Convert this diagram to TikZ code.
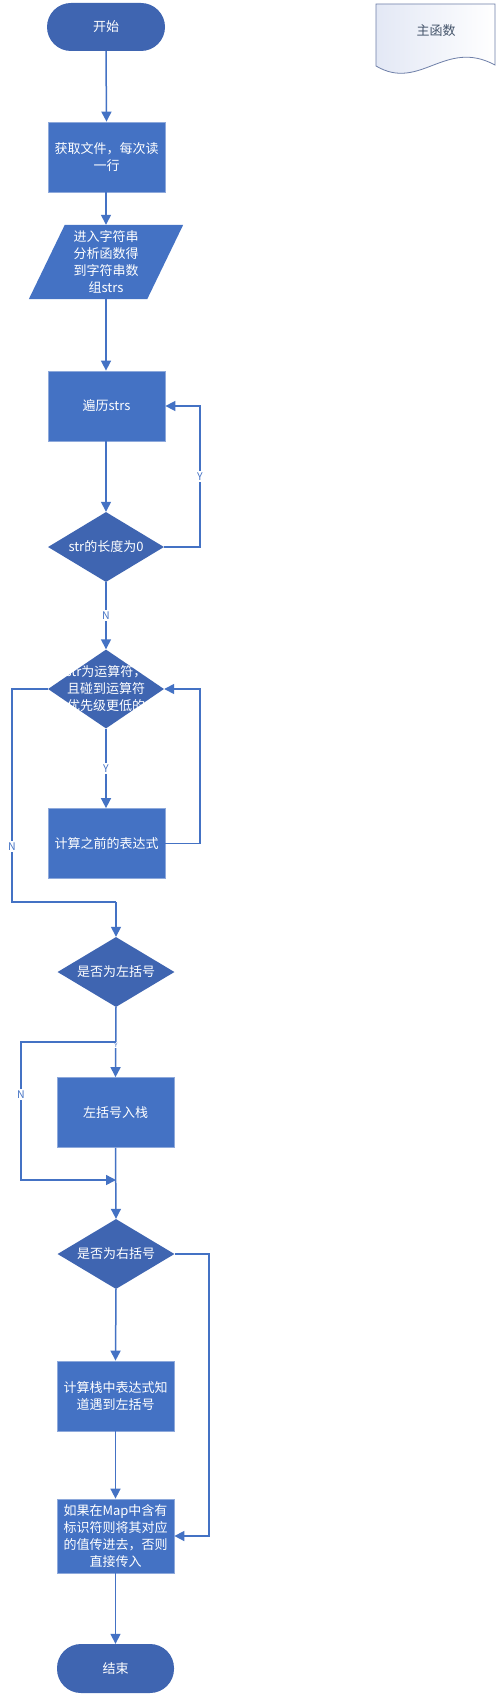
\documentclass[tikz,border=0pt]{standalone}
\usepackage{fontspec}
\newfontfamily\cjk{Noto Sans CJK SC}
\usetikzlibrary{arrows.meta,shapes.geometric,calc}
\definecolor{boxblue}{HTML}{4472C4}
\definecolor{darkblue}{HTML}{3F65B1}
\definecolor{boxedge}{HTML}{8EA9DB}
\definecolor{lineblue}{HTML}{4472C4}
\definecolor{docedge}{HTML}{6E7FA8}
\definecolor{doctext}{HTML}{44546A}
\definecolor{docfill}{HTML}{E3E8F5}
\tikzset{
  txt/.style={font=\cjk\fontsize{13pt}{17pt}\selectfont, text=white, align=center},
  pill/.style={txt, rectangle, rounded corners=24pt, fill=darkblue, draw=none, minimum width=118pt, minimum height=48pt, inner sep=0pt},
  procbox/.style={txt, rectangle, fill=boxblue, draw=boxedge, line width=0.75pt, minimum width=117pt, minimum height=70pt, inner sep=2pt},
  decision/.style={diamond, fill=darkblue, draw=none, inner sep=0pt, minimum width=116pt, minimum height=70pt},
  frame/.style={rectangle, draw=none, inner sep=0pt},
  conn/.style={draw=lineblue, line width=1.5pt},
  arr/.style={conn, -{Triangle[length=10pt,width=10pt]}},
  lbl/.style={font=\cjk\fontsize{10.5pt}{12pt}\selectfont, text=lineblue, fill=white, inner sep=1.5pt},
}
\begin{document}
\begin{tikzpicture}[x=1pt,y=-1pt]
\useasboundingbox (0,0) rectangle (496,1696);
\fill[white] (0,0) rectangle (496,1696);

% document shape "主函数"
\coordinate (doctl) at (376,4);
\coordinate (doctr) at (495,4);
\coordinate (docrb) at (495,65);
\coordinate (doclb) at (376,66);
\shade[left color=docfill, right color=white]
  (doctl) -- (doctr) -- (docrb) .. controls (445,38) and (420,92) .. (doclb) -- cycle;
\draw[docedge, line width=0.8pt]
  (doctl) -- (doctr) -- (docrb) .. controls (445,38) and (420,92) .. (doclb) -- cycle;
\node[font=\cjk\fontsize{13pt}{17pt}\selectfont, text=doctext] (doc) at (436,31) {主函数};

% nodes
\node[pill] (start) at (106,27) {开始};
\node[procbox] (b1) at (106.5,157) {获取文件，每次读\\一行};
\node[frame, minimum width=154pt, minimum height=74pt] (io) at (106,262) {};
\fill[boxblue] ($(io.north west)+(36,0)$) -- (io.north east) -- ($(io.south east)+(-36,0)$) -- (io.south west) -- cycle;
\node[txt] (iot) at (106,262) {进入字符串\\分析函数得\\到字符串数\\组strs};
\node[procbox] (b2) at (106.5,406) {遍历strs};
\node[decision] (d1) at (106,547) {};
\node[txt] (d1t) at (d1) {str的长度为0};
\node[decision, minimum height=79pt] (d2) at (106,689) {};
\node[txt] (d2t) at (d2) {str为运算符，\\且碰到运算符\\优先级更低的};
\node[procbox] (b3) at (106.5,843.5) {计算之前的表达式};
\node[decision, minimum width=117pt] (d3) at (116,972) {};
\node[txt] (d3t) at (d3) {是否为左括号};
\node[procbox] (b4) at (115.5,1112.5) {左括号入栈};
\node[decision, minimum width=117pt] (d4) at (116,1254) {};
\node[txt] (d4t) at (d4) {是否为右括号};
\node[procbox] (b5) at (115.5,1396) {计算栈中表达式知\\道遇到左括号};
\node[procbox, minimum height=74pt] (b6) at (115.5,1536) {如果在Map中含有\\标识符则将其对应\\的值传进去，否则\\直接传入};
\node[pill, minimum width=117pt, minimum height=49pt] (end) at (115.5,1668.5) {结束};

% helper coordinates
\coordinate (rx1) at (200,0);
\coordinate (lx1) at (12,0);
\coordinate (nmerge) at (116,902);
\coordinate (nsplit) at (116,1042);
\coordinate (njoin) at (116,1180);
\coordinate (lx2) at (21,0);
\coordinate (rx2) at (209,0);

% connectors
\draw[arr] (start.south) -- (b1.north);
\draw[arr] (b1.south -| io.north) -- (io.north);
\draw[arr] (io.south) -- (b2.north -| io.south);
\draw[arr] (b2.south -| d1.north) -- (d1.north);
\draw[arr] (d1.east) -- (d1.east -| rx1) |- (b2.east)
  node[lbl, pos=0.25] (ly1) {Y};
\draw[arr] (d1.south) -- (d2.north) node[lbl, pos=0.5] (ln1) {N};
\draw[arr] (d2.south) -- (b3.north -| d2.south) node[lbl, pos=0.5] (ly2) {Y};
\draw[arr] (b3.east) -- (b3.east -| rx1) |- (d2.east);
\draw[conn] (d2.west) -- (d2.west -| lx1) -- (nmerge -| lx1)
  node[lbl, pos=0.74] (ln2) {N} -- (nmerge);
\draw[arr] (nmerge) -- (d3.north);
\draw[arr] (d3.south) -- (b4.north);
\node[lbl, font=\cjk\fontsize{6pt}{7pt}\selectfont, inner sep=0.5pt] (ly3) at (116,1045) {Y};
\draw[arr] (nsplit) -- (nsplit -| lx2) -- (njoin -| lx2)
  node[lbl, pos=0.38] (ln3) {N} -- (njoin);
\draw[arr] (b4.south) -- (d4.north);
\draw[arr] (d4.south) -- (b5.north);
\draw[arr] (d4.east) -- (d4.east -| rx2) |- (b6.east);
\draw[arr] (b5.south) -- (b6.north);
\draw[arr] (b6.south) -- (end.north);
\end{tikzpicture}
\end{document}
